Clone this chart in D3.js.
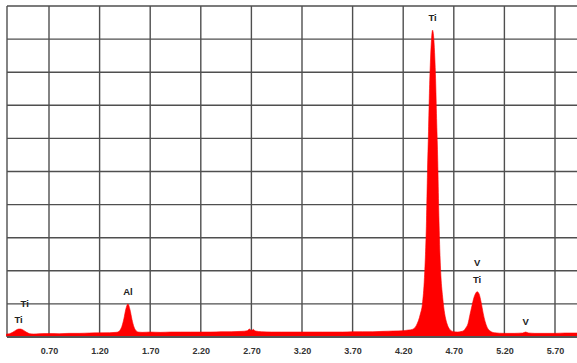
<!DOCTYPE html>
<html>
<head>
<meta charset="utf-8">
<script src="https://cdn.jsdelivr.net/npm/d3@7"></script>
<style>
html,body{margin:0;padding:0;background:#fff;}
svg{display:block;}
</style>
</head>
<body>
<svg id="chart" width="577" height="363"></svg>
<script>
// ---- data (energy in keV, intensity in relative counts) ----
const energy = [
  0.28,0.31,0.34,0.37,0.40,0.42,0.45,0.48,0.51,0.55,
  0.60,0.70,0.80,0.90,1.00,1.10,1.20,1.30,1.36,
  1.38,1.40,1.42,1.44,1.46,1.48,1.50,1.52,1.54,1.56,1.58,1.62,
  1.70,1.80,1.90,2.00,2.10,2.20,2.30,2.40,2.50,2.60,2.66,2.68,2.70,2.72,2.74,2.80,2.90,
  3.00,3.20,3.40,3.60,3.70,3.80,3.90,4.00,4.10,4.20,4.25,4.29,
  4.33,4.37,4.39,4.41,4.43,4.44,4.45,4.46,4.47,4.48,4.49,4.50,4.51,4.52,4.53,4.54,4.55,4.56,4.57,4.59,4.61,4.63,4.66,
  4.70,4.74,4.78,4.80,4.82,4.84,4.86,4.88,4.90,4.92,4.93,4.95,4.97,4.99,5.01,5.03,5.06,5.10,
  5.20,5.30,5.38,5.41,5.44,5.50,5.60,5.70,5.80,5.92
];
const counts = [
  0.9,1.0,1.4,2.0,2.4,2.4,2.0,1.4,1.0,0.9,
  1.0,1.05,1.0,1.1,1.1,1.2,1.25,1.3,1.4,
  1.5,2.0,3.2,5.5,8.5,10.0,8.3,5.3,3.0,1.9,1.5,1.4,
  1.5,1.4,1.5,1.5,1.5,1.5,1.5,1.6,1.6,1.7,1.9,2.4,2.0,2.3,1.8,1.6,1.5,
  1.5,1.5,1.5,1.5,1.6,1.6,1.6,1.7,1.8,1.9,2.1,2.3,
  3.5,7.0,10.0,18.0,35.0,50.0,62.0,75.0,84.0,90.0,92.7,91.0,86.0,78.0,66.0,55.0,40.0,28.0,20.0,12.0,7.0,4.3,2.3,
  1.6,1.5,1.7,2.0,2.8,4.0,6.8,9.5,12.0,13.4,13.7,13.0,10.5,7.2,4.6,2.9,1.8,1.3,
  1.1,1.1,1.2,1.5,1.2,1.1,1.1,1.1,1.2,1.2
];
const tickValues = [0.70,1.20,1.70,2.20,2.70,3.20,3.70,4.20,4.70,5.20,5.70];
const tickLabels = ["0.70","1.20","1.70","2.20","2.70","3.20","3.70","4.20","4.70","5.20","5.70"];
const yTicks = [0,10,20,30,40,50,60,70,80,90,100];
// peak labels: element, energy, label height (counts)
const labelText   = ["Ti","Ti","Al","Ti","V","Ti","V"];
const labelEnergy = [0.40,0.46,1.48,4.49,4.93,4.93,5.41];
const labelLevel  = [4.2,9.0,12.8,95.6,21.6,16.4,3.6];

// ---- layout ----
const W = 577, H = 363;
const mLeft = 7, mTop = 6, mBottom = 337, mRight = 577;
const x = d3.scaleLinear().domain([0.70, 5.70]).range([49, 555]);
const y = d3.scaleLinear().domain([0, 100]).range([mBottom, mTop]);

const svg = d3.select("#chart");

// grid
const grid = svg.append("g").attr("stroke", "#4f4f4f").attr("stroke-width", 1.4);
grid.selectAll("line.v").data(tickValues).join("line")
  .attr("x1", d => x(d)).attr("x2", d => x(d))
  .attr("y1", mTop).attr("y2", mBottom);
grid.selectAll("line.h").data(yTicks).join("line")
  .attr("x1", mLeft).attr("x2", mRight)
  .attr("y1", d => y(d)).attr("y2", d => y(d));
grid.append("line").attr("x1", mLeft).attr("x2", mLeft).attr("y1", mTop).attr("y2", mBottom);

// spectrum
const pts = energy.map((e, i) => [e, counts[i]]);
const area = d3.area()
  .x(d => x(d[0]))
  .y0(y(0.3))
  .y1(d => y(d[1]))
  .curve(d3.curveMonotoneX);
svg.append("path").datum(pts).attr("d", area).attr("fill", "#ff0000").attr("stroke", "#ff0000").attr("stroke-width", 0.6);

// bottom axis line
svg.append("line").attr("x1", mLeft).attr("x2", mRight).attr("y1", mBottom).attr("y2", mBottom)
  .attr("stroke", "#555").attr("stroke-width", 1.8);

// x tick labels
const xAxis = d3.axisBottom(x).tickValues(tickValues).tickSize(0).tickPadding(0)
  .tickFormat((d, i) => tickLabels[i]);
const ax = svg.append("g").attr("transform", `translate(0,${mBottom + 11})`).call(xAxis);
ax.select(".domain").remove();
ax.selectAll("text")
  .attr("font-family", "Liberation Sans, Arial, sans-serif")
  .attr("font-size", 9).attr("font-weight", "bold").attr("fill", "#333");

// peak labels
svg.append("g").selectAll("text").data(labelText).join("text")
  .attr("x", (d, i) => x(labelEnergy[i]))
  .attr("y", (d, i) => y(labelLevel[i]))
  .attr("text-anchor", "middle")
  .attr("font-family", "Liberation Sans, Arial, sans-serif")
  .attr("font-size", 9.5).attr("font-weight", "bold").attr("fill", "#222")
  .text(d => d);
</script>
</body>
</html>
